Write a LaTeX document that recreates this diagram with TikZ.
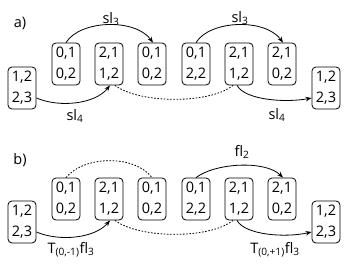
\documentclass[tikz,border=0pt]{standalone}
\usepackage{fontspec}
\setmainfont{Open Sans}
\usetikzlibrary{calc,arrows.meta}
\tikzset{
  box/.style={draw, line width=0.8pt, rounded corners=4pt, minimum width=28pt, minimum height=42pt, inner sep=0pt, align=center, font=\fontsize{14.5}{21}\selectfont},
  lbl/.style={font=\fontsize{14.5}{16}\selectfont, inner sep=0pt},
  arr/.style={line width=0.8pt, -{Stealth[length=6pt,width=4.5pt]}},
  dot/.style={line width=0.8pt, dash pattern=on 1.6pt off 1.6pt}
}
\begin{document}
\begin{tikzpicture}[x=1pt,y=-1pt]
\useasboundingbox (0,0) rectangle (350,267);
% panel a
\node[lbl] (la) at (20,23) {a)};
\node[box] (a1) at (22,88) {1,2\\2,3};
\node[box] (a2) at (66,64) {0,1\\0,2};
\node[box] (a3) at (109,64) {2,1\\1,2};
\node[box] (a4) at (152,64) {0,1\\0,2};
\node[box] (a5) at (196,64) {0,1\\2,2};
\node[box] (a6) at (239,64) {2,1\\1,2};
\node[box] (a7) at (282,64) {2,1\\0,2};
\node[box] (a8) at (326,88) {1,2\\2,3};
\draw[arr] (a2.north) .. controls (80,20) and (135,18) .. ($(a4.north)+(1,0)$);
\draw[arr] (a5.north) .. controls (210,20) and (265,18) .. ($(a7.north)+(1,0)$);
\draw[arr] ($(a1.east)+(0,10)$) .. controls (60,108) and (95,104) .. ($(a3.south)+(1,0)$);
\draw[arr] ($(a6.south)+(-2,0)$) .. controls (245,100) and (285,103) .. ($(a8.west)+(0,10)$);
\draw[dot] ($(a3.south)+(6,0)$) .. controls (140,104) and (210,104) .. ($(a6.south)+(-6,0)$);
\node[lbl] (s3a) at (111,19) {sl\textsubscript{3}};
\node[lbl] (s3b) at (240,18) {sl\textsubscript{3}};
\node[lbl] (s4a) at (75,116) {sl\textsubscript{4}};
\node[lbl] (s4b) at (277,115) {sl\textsubscript{4}};
% panel b
\node[lbl] (lb) at (20,160) {b)};
\node[box] (b1) at (22,222) {1,2\\2,3};
\node[box] (b2) at (66,199) {0,1\\0,2};
\node[box] (b3) at (109,199) {2,1\\1,2};
\node[box] (b4) at (152,199) {0,1\\0,2};
\node[box] (b5) at (196,199) {0,1\\2,2};
\node[box] (b6) at (239,199) {2,1\\1,2};
\node[box] (b7) at (282,199) {2,1\\0,2};
\node[box] (b8) at (326,222) {1,2\\2,3};
\draw[dot] (b2.north) .. controls (85,155) and (135,155) .. (b4.north);
\draw[arr] (b5.north) .. controls (215,163) and (265,160) .. ($(b7.north)+(1,0)$);
\draw[arr] ($(b1.east)+(0,10)$) .. controls (60,242) and (95,238) .. ($(b3.south)+(1,0)$);
\draw[arr] ($(b6.south)+(-2,0)$) .. controls (245,235) and (285,238) .. ($(b8.west)+(0,10)$);
\draw[dot] ($(b3.south)+(6,0)$) .. controls (140,239) and (210,239) .. ($(b6.south)+(-6,0)$);
\node[lbl] (f2) at (242,152) {fl\textsubscript{2}};
\node[lbl] (t1) at (71,250) {T\textsubscript{(0,-1)}fl\textsubscript{3}};
\node[lbl] (t2) at (275,250) {T\textsubscript{(0,+1)}fl\textsubscript{3}};
\end{tikzpicture}
\end{document}
